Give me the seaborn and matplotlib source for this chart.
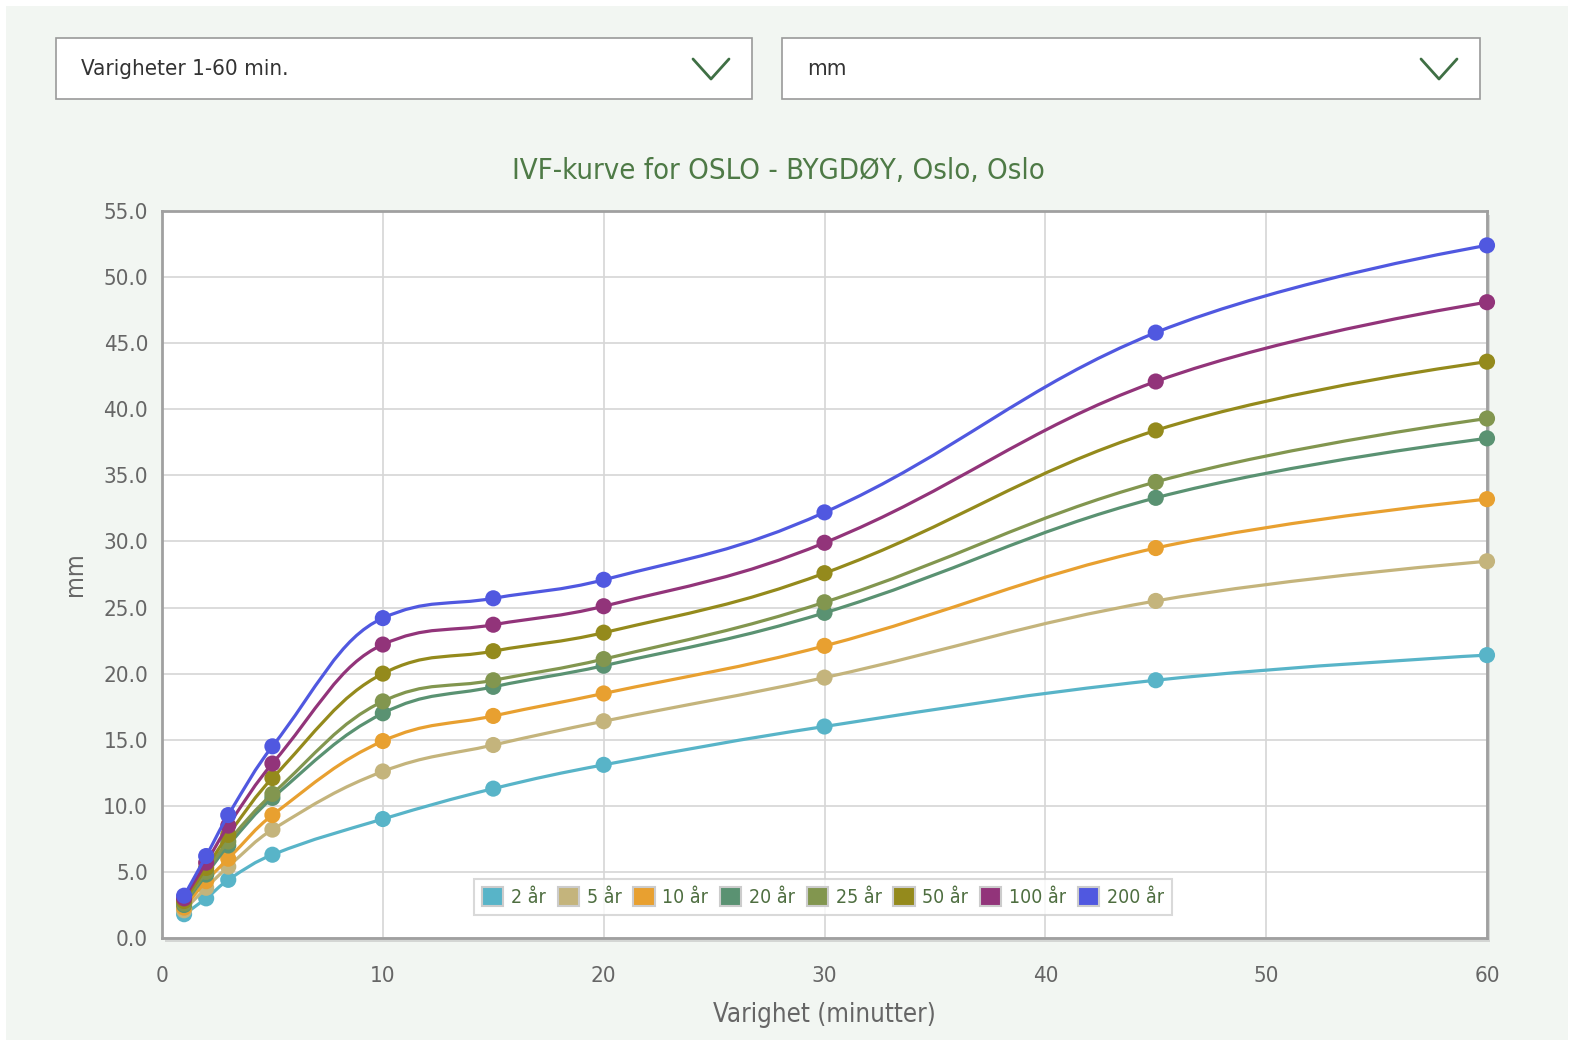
import matplotlib
matplotlib.use("Agg")
import matplotlib.pyplot as plt
from matplotlib.path import Path
from matplotlib.patches import PathPatch, Patch, Rectangle
from matplotlib.lines import Line2D
import pandas as pd
import seaborn as sns

# durations (minutes) and return periods
durations = [1, 2, 3, 5, 10, 15, 20, 30, 45, 60]
labels = ["2 år", "5 år", "10 år", "20 år", "25 år", "50 år", "100 år", "200 år"]
colors = ["#58b4c8", "#c4b47c", "#e8a030", "#5a9272", "#82964f", "#948a1c", "#92347a", "#5058e0"]

mm_2 = [1.8, 3.0, 4.4, 6.3, 9.0, 11.3, 13.1, 16.0, 19.5, 21.4]
mm_5 = [2.1, 3.8, 5.4, 8.2, 12.6, 14.6, 16.4, 19.7, 25.5, 28.5]
mm_10 = [2.3, 4.3, 6.0, 9.3, 14.9, 16.8, 18.5, 22.1, 29.5, 33.2]
mm_20 = [2.5, 4.8, 7.0, 10.6, 17.0, 19.0, 20.6, 24.6, 33.3, 37.8]
mm_25 = [2.6, 5.0, 7.3, 10.9, 17.9, 19.5, 21.1, 25.4, 34.5, 39.3]
mm_50 = [2.8, 5.3, 7.8, 12.1, 20.0, 21.7, 23.1, 27.6, 38.4, 43.6]
mm_100 = [3.0, 5.7, 8.5, 13.2, 22.2, 23.7, 25.1, 29.9, 42.1, 48.1]
mm_200 = [3.2, 6.2, 9.3, 14.5, 24.2, 25.7, 27.1, 32.2, 45.8, 52.4]
series = [mm_2, mm_5, mm_10, mm_20, mm_25, mm_50, mm_100, mm_200]

rows = []
for lab, vals in zip(labels, series):
    for d, v in zip(durations, vals):
        rows.append({"Varighet": d, "mm": v, "Gjentaksintervall": lab})
df = pd.DataFrame(rows)


def spline_path(xs, ys, smoothing=1.5):
    # Highcharts-style spline: cubic bezier with computed control points
    denom = smoothing + 1
    n = len(xs)
    left = [(xs[i], ys[i]) for i in range(n)]
    right = [(xs[i], ys[i]) for i in range(n)]
    for i in range(1, n - 1):
        px, py = xs[i], ys[i]
        lx, ly = xs[i - 1], ys[i - 1]
        nx, ny = xs[i + 1], ys[i + 1]
        lcx = (smoothing * px + lx) / denom
        lcy = (smoothing * py + ly) / denom
        rcx = (smoothing * px + nx) / denom
        rcy = (smoothing * py + ny) / denom
        if rcx != lcx:
            corr = (rcy - lcy) * (rcx - px) / (rcx - lcx) + py - rcy
            lcy += corr
            rcy += corr
        if lcy > ly and lcy > py:
            lcy = max(ly, py)
            rcy = 2 * py - lcy
        elif lcy < ly and lcy < py:
            lcy = min(ly, py)
            rcy = 2 * py - lcy
        if rcy > ny and rcy > py:
            rcy = max(ny, py)
            lcy = 2 * py - rcy
        elif rcy < ny and rcy < py:
            rcy = min(ny, py)
            lcy = 2 * py - rcy
        left[i] = (lcx, lcy)
        right[i] = (rcx, rcy)
    verts = [(xs[0], ys[0])]
    codes = [Path.MOVETO]
    for i in range(1, n):
        verts += [right[i - 1], left[i], (xs[i], ys[i])]
        codes += [Path.CURVE4] * 3
    return Path(verts, codes)


sns.set_style("white")
plt.rcParams["font.family"] = ["DejaVu Sans Condensed", "DejaVu Sans"]
plt.rcParams["font.stretch"] = "condensed"

W, H = 1574, 1040
bg = "#f2f6f2"
fig = plt.figure(figsize=(W / 100, H / 100), dpi=100)
fig.patch.set_facecolor("white")
fig.patches.append(Rectangle((6 / W, 0), (W - 12) / W, 1 - 6 / H, transform=fig.transFigure,
                             facecolor=bg, edgecolor="none", zorder=-10))

# dropdown boxes at the top
for x0, x1, txt in [(56, 752, "Varigheter 1-60 min."), (782, 1480, "mm")]:
    fig.patches.append(Rectangle((x0 / W, 1 - 99 / H), (x1 - x0) / W, 61 / H, transform=fig.transFigure,
                                 facecolor="white", edgecolor="#9a9a9a", lw=1.2, zorder=1))
    fig.text((x0 + 25) / W, 1 - 69 / H, txt, fontsize=16, color="#333333", va="center", ha="left")
    cx = x1 - 41
    fig.lines.append(Line2D([(cx - 18) / W, cx / W, (cx + 18) / W],
                            [1 - 59 / H, 1 - 79 / H, 1 - 59 / H], transform=fig.transFigure,
                            color="#3f6f44", lw=2.0, zorder=2))

# axes
L, R, T, B = 162, 1487, 211, 938
ax = fig.add_axes([L / W, 1 - B / H, (R - L) / W, (B - T) / H])
fig.patches.append(Rectangle(((L + 3) / W, 1 - (B + 4) / H), (R - L) / W, (B - T) / H, transform=fig.transFigure,
                             facecolor="#d4d6d4", edgecolor="none", zorder=-5))
ax.set_facecolor("white")

for i, (lab, vals, col) in enumerate(zip(labels, series, colors)):
    ax.add_patch(PathPatch(spline_path(durations, vals), facecolor="none", edgecolor=col,
                           lw=2.3, zorder=3 + 2 * i, clip_on=False, capstyle="round"))
    sns.scatterplot(data=df[df["Gjentaksintervall"] == lab], x="Varighet", y="mm", color=col,
                    s=135, edgecolor="none", linewidth=0, ax=ax, zorder=4 + 2 * i, clip_on=False, legend=False)

ax.set_xlim(0, 60)
ax.set_ylim(0, 55)
ax.set_xticks(range(0, 61, 10))
ax.set_yticks([i * 5 for i in range(12)])
ax.set_yticklabels([f"{i * 5:.1f}" for i in range(12)])
ax.grid(True, color="#d6d6d6", lw=1.2)
ax.set_axisbelow(True)
for sp in ax.spines.values():
    sp.set_color("#a0a0a0")
    sp.set_linewidth(2)
ax.tick_params(axis="both", colors="#a0a0a0", length=6, width=1, labelcolor="#666666", labelsize=16)
ax.tick_params(axis="x", pad=14)
ax.tick_params(axis="y", pad=4)
ax.set_xlabel("Varighet (minutter)", fontsize=18.5, color="#666666", labelpad=12)
ax.set_ylabel("mm", fontsize=18, color="#666666", labelpad=12)

fig.text(778 / W, 1 - 171 / H, "IVF-kurve for OSLO - BYGDØY, Oslo, Oslo", fontsize=21,
         color="#4e7a46", ha="center", va="center")

handles = [Patch(facecolor=c, edgecolor="#cccccc", lw=1.5) for c in colors]
leg = ax.legend(handles, labels, loc="center", bbox_to_anchor=(823 / W, 1 - 897 / H),
                bbox_transform=fig.transFigure, ncol=8, frameon=True, fontsize=14,
                handlelength=1.1, handleheight=1.1, handletextpad=0.4, columnspacing=0.6,
                borderpad=0.4, fancybox=False, labelcolor="#4e6e40")
leg.get_frame().set_edgecolor("#d0d0d0")
leg.get_frame().set_linewidth(1.5)
leg.set_zorder(30)

fig.savefig("out.png", dpi=100, facecolor=fig.get_facecolor())
